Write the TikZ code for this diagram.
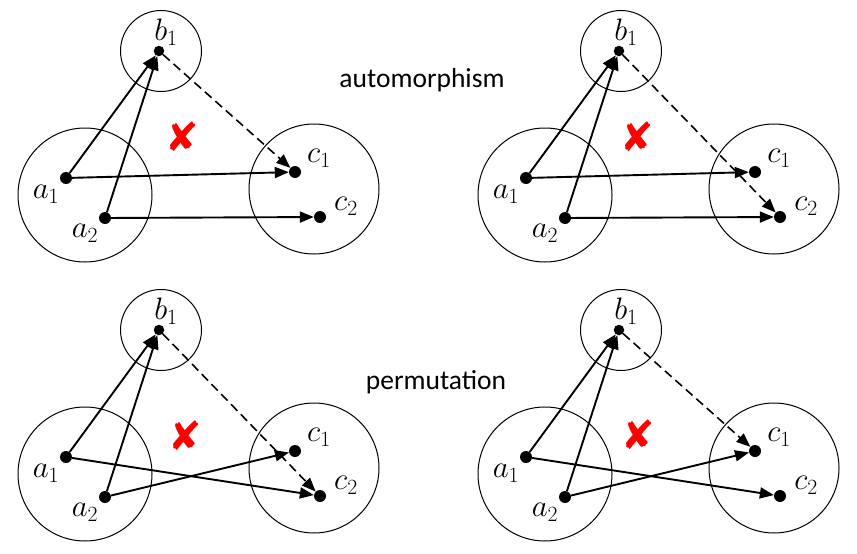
\documentclass[tikz,border=0pt]{standalone}
\usepackage{fix-cm}
\usepackage{fontspec}
\setmainfont{Carlito}
\newfontfamily\dejavu{DejaVu Sans}
\usetikzlibrary{arrows.meta}
\tikzset{
  grp/.style={circle,draw,line width=1pt,inner sep=0pt},
  dotn/.style={circle,fill=black,inner sep=0pt,minimum size=12pt},
  lbl/.style={inner sep=0pt,font=\fontsize{31}{31}\selectfont},
  edge/.style={line width=1.9pt,-{Triangle[length=14pt,width=11pt]}},
  dedge/.style={line width=1.6pt,dash pattern=on 9pt off 5pt,-{Triangle[length=14pt,width=11pt]}},
  cross/.style={inner sep=0pt,text=red,font=\dejavu\fontsize{40}{40}\selectfont},
  word/.style={inner sep=0pt,anchor=base,font=\fontsize{27.5}{27.5}\selectfont}
}
\newcommand\mypanel[3]{%
  \begin{scope}[shift={(#2,#3)}]
    \node[grp,minimum size=81pt] (#1B) at (161,51) {};
    \node[grp,minimum size=134pt] (#1A) at (85,195) {};
    \node[grp,minimum size=130pt] (#1C) at (314,189) {};
    \node[dotn,minimum size=10.5pt] (#1b1) at (159,51) {};
    \node[dotn] (#1a1) at (66,178) {};
    \node[dotn] (#1a2) at (105,218) {};
    \node[dotn] (#1c1) at (295,172) {};
    \node[dotn] (#1c2) at (320,217) {};
    \node[lbl] (#1lb) at (166,32) {$b_1$};
    \node[lbl] (#1la1) at (46,194) {$a_1$};
    \node[lbl] (#1la2) at (85,233) {$a_2$};
    \node[lbl] (#1lc1) at (319,158) {$c_1$};
    \node[lbl] (#1lc2) at (346,206) {$c_2$};
    \draw[edge] (#1a1) -- (#1b1);
    \draw[edge] (#1a2) -- (#1b1);
  \end{scope}}
\begin{document}
\begin{tikzpicture}[x=1pt,y=-1pt]
\useasboundingbox (0,0) rectangle (857,554);
\mypanel{p}{0}{0}
\mypanel{q}{460}{0}
\mypanel{r}{0}{279}
\mypanel{s}{460}{279}
% top-left
\draw[edge] (pa1) -- (pc1);
\draw[edge] (pa2) -- (pc2);
\draw[dedge] (pb1) -- (pc1);
% top-right
\draw[edge] (qa1) -- (qc1);
\draw[edge] (qa2) -- (qc2);
\draw[dedge] (qb1) -- (qc2);
% bottom-left
\draw[edge] (ra1) -- (rc2);
\draw[edge] (ra2) -- (rc1);
\draw[dedge] (rb1) -- (rc2);
% bottom-right
\draw[edge] (sa1) -- (sc2);
\draw[edge] (sa2) -- (sc1);
\draw[dedge] (sb1) -- (sc1);
% crosses
\node[cross] (x1) at (182,137) {✘};
\node[cross] (x2) at (637,137) {✘};
\node[cross] (x3) at (185,436) {✘};
\node[cross] (x4) at (638,435) {✘};
% words
\node[word] (w1) at (422,87) {automorphism};
\node[word] (w2) at (436,389) {permutation};
\end{tikzpicture}
\end{document}
